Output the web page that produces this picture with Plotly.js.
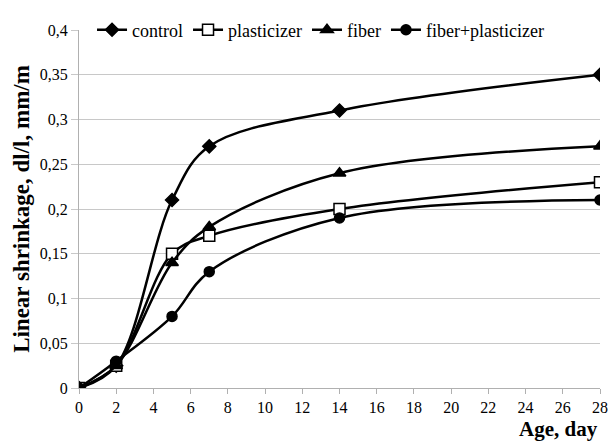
<!DOCTYPE html>
<html><head><meta charset="utf-8">
<script src="https://cdn.plot.ly/plotly-3.0.1.min.js"></script>
</head><body style="margin:0">
<div id="chart"></div>
<script>
const days = [0, 2, 5, 7, 14, 28];
const control = [0, 0.025, 0.21, 0.27, 0.31, 0.35];
const plasticizer = [0, 0.025, 0.15, 0.17, 0.20, 0.23];
const fiber = [0, 0.025, 0.14, 0.18, 0.24, 0.27];
const fiberPlasticizer = [0, 0.03, 0.08, 0.13, 0.19, 0.21];
const seriesNames = ['control', 'plasticizer', 'fiber', 'fiber+plasticizer'];
const xTicks = [0,2,4,6,8,10,12,14,16,18,20,22,24,26,28];
const yTicks = [0,0.05,0.1,0.15,0.2,0.25,0.3,0.35,0.4];

const SERIF = 'Liberation Serif';
function makeTrace(name, y, sym, size, fill) {
  return {x: days, y: y, name: name, type: 'scatter', mode: 'lines+markers',
    line: {color: '#000', width: 2.5, shape: 'spline', smoothing: 1},
    marker: {symbol: sym, size: size, color: fill, line: {color: '#000', width: 1.5}}};
}
const data = [
  makeTrace(seriesNames[0], control, 'diamond', 10, '#000'),
  makeTrace(seriesNames[1], plasticizer, 'square', 11, '#fff'),
  makeTrace(seriesNames[2], fiber, 'triangle-up', 11, '#000'),
  makeTrace(seriesNames[3], fiberPlasticizer, 'circle', 10, '#000')
];
const layout = {
  width: 611, height: 444,
  margin: {l: 79, r: 11, t: 25, b: 56},
  paper_bgcolor: '#fff', plot_bgcolor: '#fff',
  separators: ', ',
  showlegend: true,
  legend: {orientation: 'h', x: 0.025, y: 1.0, xanchor: 'left', yanchor: 'middle',
    bgcolor: '#fff', font: {family: SERIF, size: 18, color: '#000'},
    tracegroupgap: 0, traceorder: 'normal'},
  xaxis: {range: [0, 28], tickvals: xTicks, ticktext: xTicks.map(String),
    showgrid: false, zeroline: false, showline: true, linecolor: '#b0b0b0', linewidth: 1,
    ticks: 'outside', ticklen: 5, tickcolor: '#b0b0b0', tickfont: {family: SERIF, size: 16, color: '#000'}},
  yaxis: {range: [0, 0.4], tickvals: yTicks,
    showgrid: true, gridcolor: '#c8c8c8', gridwidth: 1, zeroline: false,
    showline: true, linecolor: '#b0b0b0', linewidth: 1,
    ticks: 'outside', ticklen: 7, tickcolor: '#c8c8c8', tickfont: {family: SERIF, size: 16, color: '#000'},
    title: {text: '<b>Linear shrinkage, dl/l, mm/m</b>', font: {family: SERIF, size: 23, color: '#000'}, standoff: 3}},
  annotations: [{text: '<b>Age, day</b>', xref: 'paper', yref: 'paper', x: 1.0, y: 0, yshift: -27,
    xanchor: 'right', yanchor: 'top', showarrow: false, font: {family: SERIF, size: 21, color: '#000'}}]
};
Plotly.newPlot('chart', data, layout, {displayModeBar: false}).then(function (gd) {
  gd.querySelectorAll('text').forEach(function (t) {
    t.style.fontFamily = SERIF;
    t.setAttribute('font-family', SERIF);
  });
});
</script></body></html>
